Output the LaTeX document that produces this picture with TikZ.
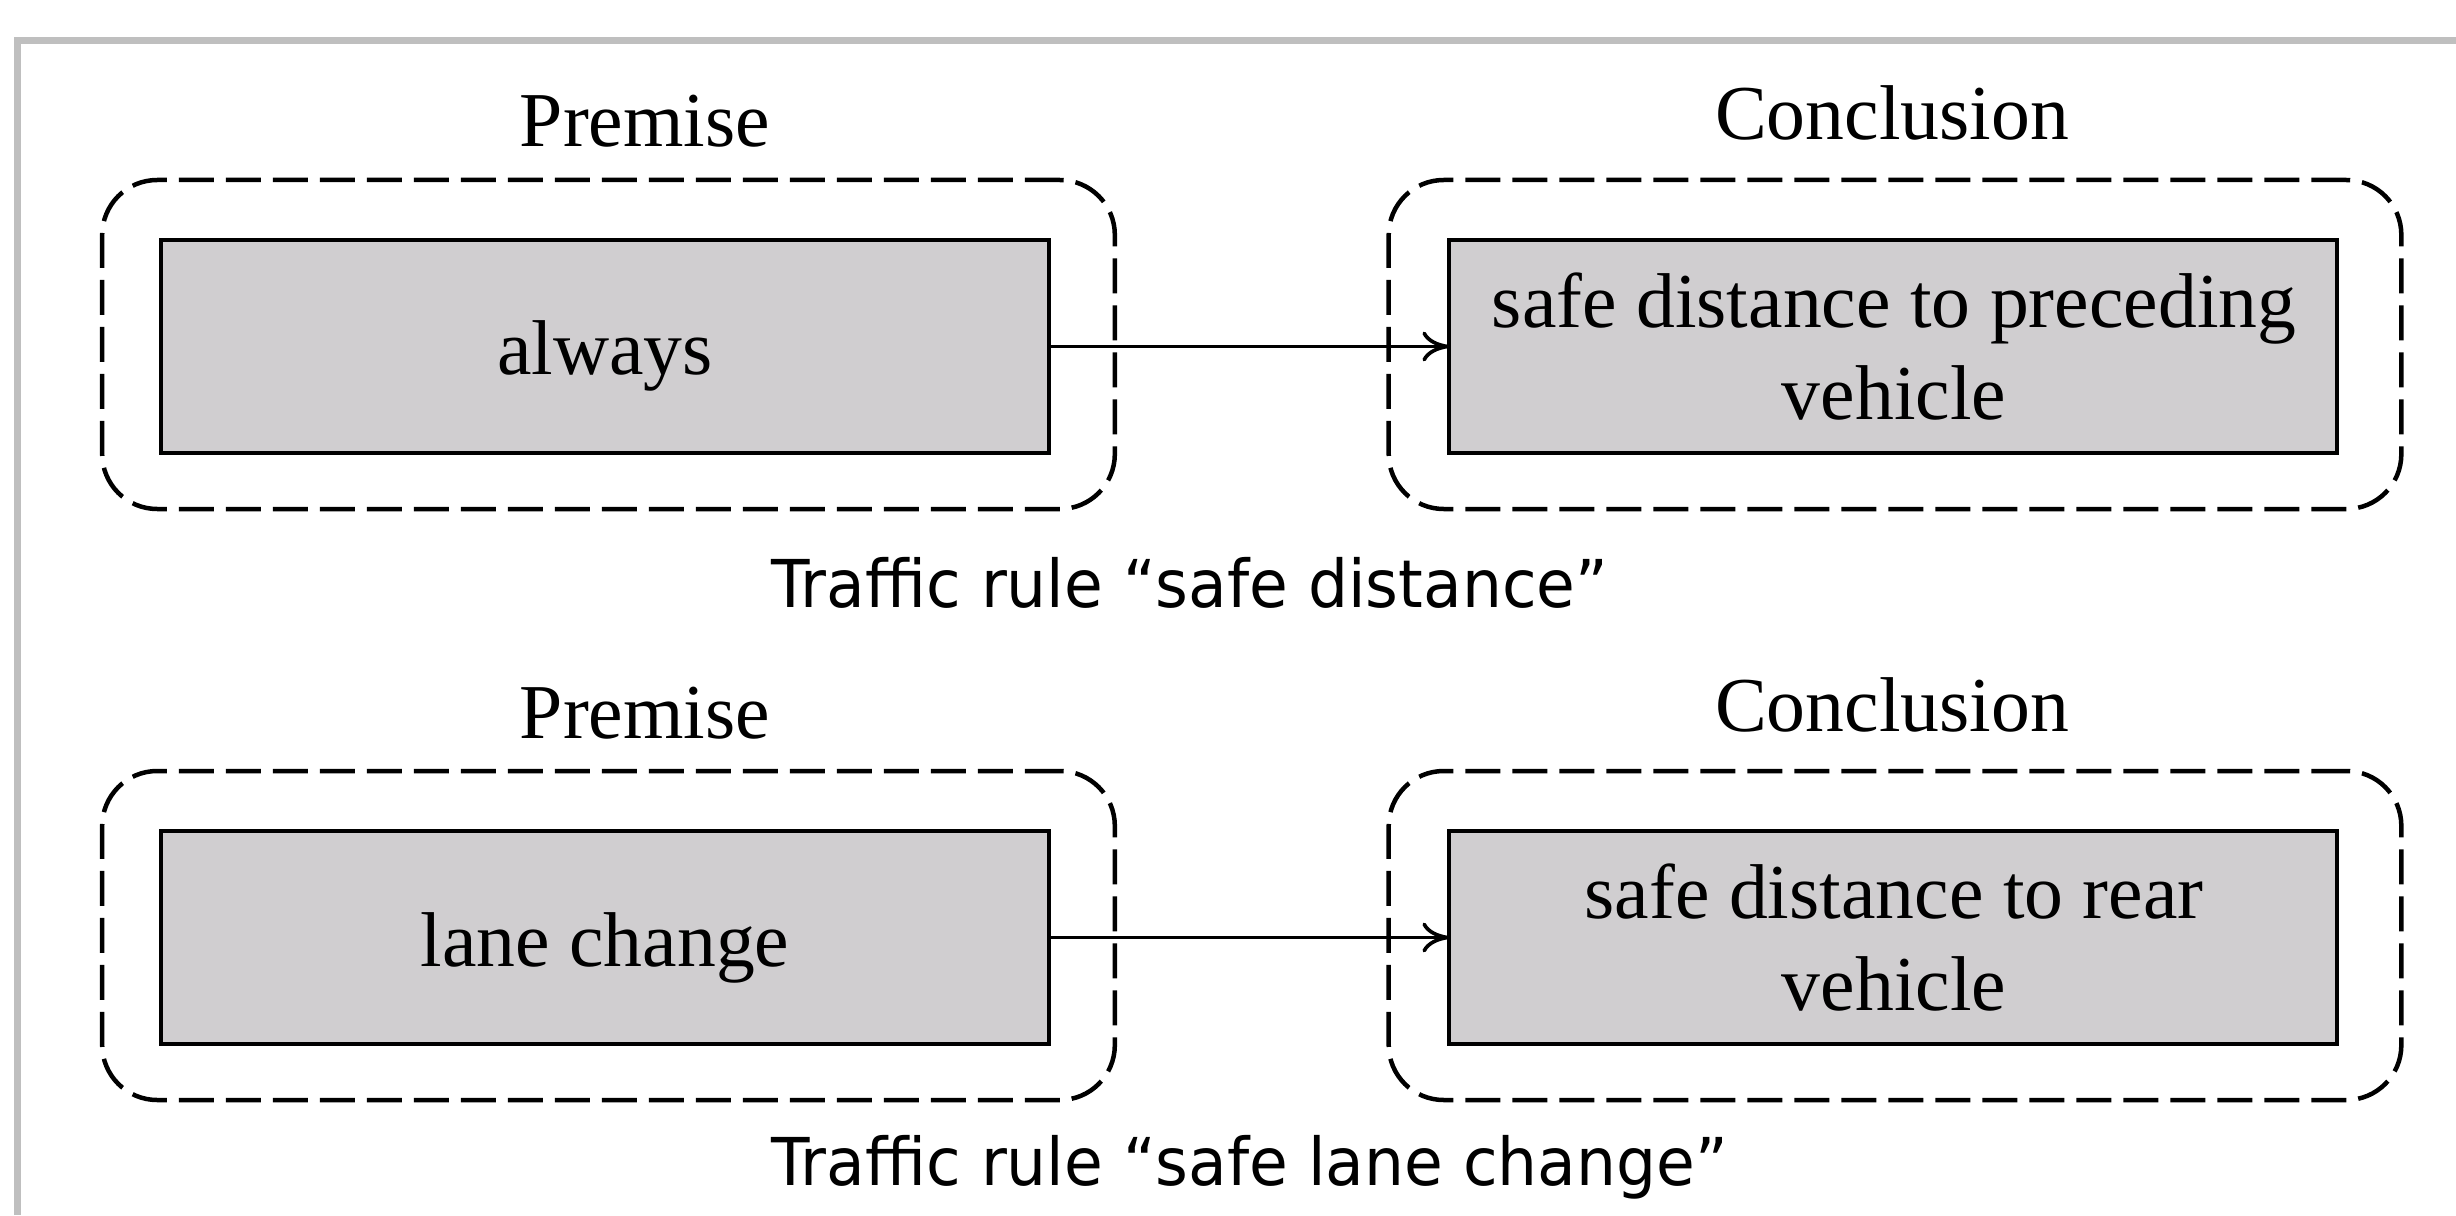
\documentclass[tikz,border=0pt]{standalone}
\usepackage{fontspec}
\setmainfont{Liberation Serif}
\newfontfamily\capfont[FakeStretch=0.955]{DejaVu Sans}
\usetikzlibrary{arrows.meta}
\definecolor{framegray}{RGB}{191,191,191}
\definecolor{boxfill}{RGB}{208,206,208}
\begin{document}
\begin{tikzpicture}[x=0.3pt,y=-0.3pt,
  region/.style={draw, dash pattern=on 10.5pt off 3.6pt, line width=1.35pt, rounded corners=16.5pt,
    minimum width=303.8pt, minimum height=98.7pt, inner sep=0pt, outer sep=0pt},
  stepbox/.style={draw, fill=boxfill, line width=1.3pt, minimum width=266.4pt, minimum height=63.9pt,
    inner sep=0pt, outer sep=0pt},
  lbl/.style={font=\fontsize{23.3}{27.6}\selectfont, inner sep=0pt, anchor=base, align=center},
  captext/.style={font=\capfont\fontsize{19.8}{24}\selectfont, inner sep=0pt, anchor=base west},
  conn/.style={line width=1.1pt, -{To[length=8pt,width=9pt]}}]
\useasboundingbox (0,0) rectangle (2456,1215);
\draw[framegray, line width=2.1pt] (17,1215) -- (17,40.5) -- (2456,40.5);

% row 1
\node[region] (rp1) at (608.5,344.5) {};
\node[region] (rc1) at (1895,344.5) {};
\node[stepbox] (p1) at (605,346.5) {};
\node[stepbox] (c1) at (1893,346.5) {};
\node[lbl] (hp1) at (645,147) {Premise};
\node[lbl] (hc1) at (1892,140) {Conclusion};
\node[lbl] (tp1) at (605,375) {always};
\node[lbl] (tc1) at (1894,419) {safe distance to preceding\\vehicle};
\draw[conn] (p1.east) -- (c1.west);
\node[captext] (cap1) at (771,607) {Traffic rule “safe distance”};

% row 2
\node[region] (rp2) at (608.5,935.5) {};
\node[region] (rc2) at (1895,935.5) {};
\node[stepbox] (p2) at (605,937.5) {};
\node[stepbox] (c2) at (1893,937.5) {};
\node[lbl] (hp2) at (645,738) {Premise};
\node[lbl] (hc2) at (1892,731) {Conclusion};
\node[lbl] (tp2) at (605,966) {lane change};
\node[lbl] (tc2) at (1894,1010) {safe distance to rear\\vehicle};
\draw[conn] (p2.east) -- (c2.west);
\node[captext] (cap2) at (771,1185) {Traffic rule “safe lane change”};
\end{tikzpicture}
\end{document}
